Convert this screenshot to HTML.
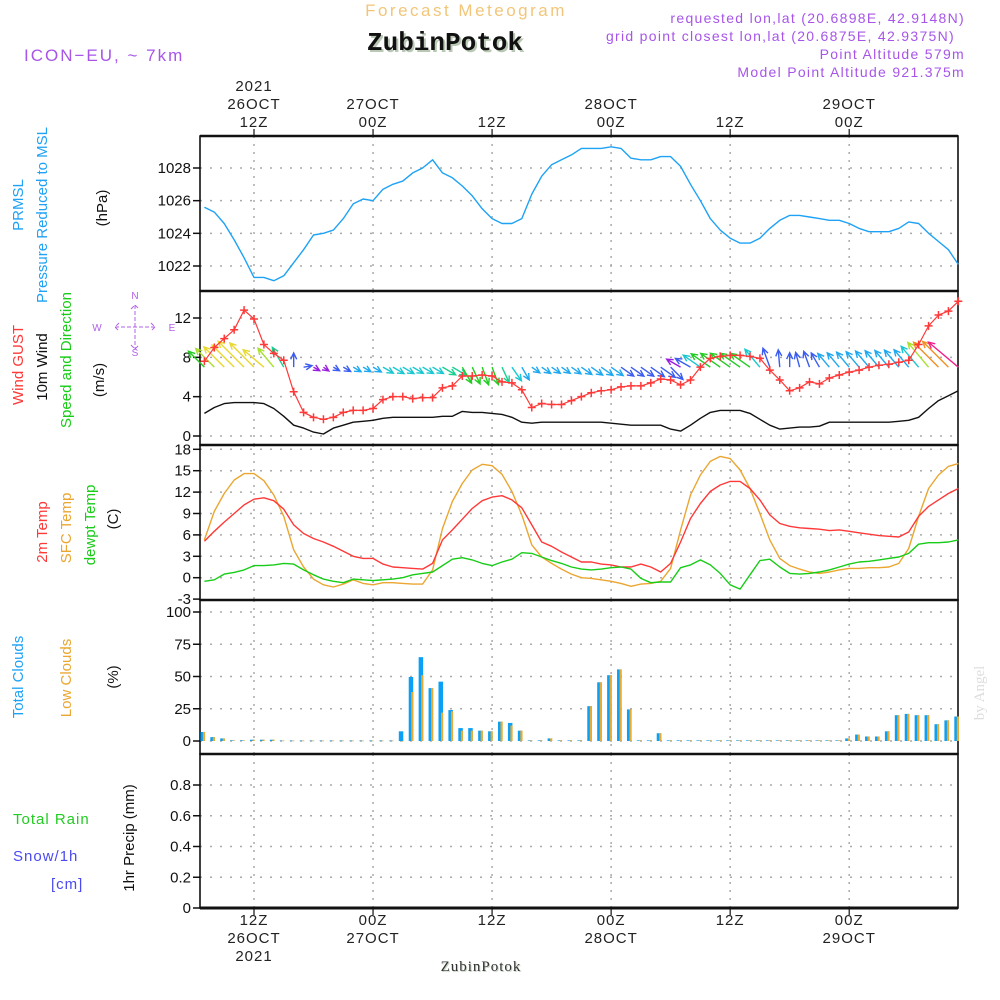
<!DOCTYPE html>
<html><head><meta charset="utf-8"><title>Meteogram</title>
<style>
html,body{margin:0;padding:0;background:#fff;}
svg{display:block;font-family:"Liberation Sans",sans-serif;}
.lbl{font-size:15px;letter-spacing:1px;fill:#222;}
.tk{font-size:15px;fill:#111;}
</style></head><body>
<svg id="chart" width="1000" height="1000" viewBox="0 0 1000 1000" xmlns="http://www.w3.org/2000/svg">
<rect x="0" y="0" width="1000" height="1000" fill="#fff"/>
<text x="466" y="16" text-anchor="middle" font-size="17" letter-spacing="2.5" fill="#f2c67a">Forecast Meteogram</text>
<text x="447" y="52" text-anchor="middle" font-family="Liberation Mono,monospace" font-weight="bold" font-size="26" fill="#b9c8b4">ZubinPotok</text>
<text x="445" y="50" text-anchor="middle" font-family="Liberation Mono,monospace" font-weight="bold" font-size="26" fill="#111">ZubinPotok</text>
<g font-size="14" letter-spacing="1.3" fill="#a755e8" text-anchor="end">
<text x="965" y="23">requested lon,lat (20.6898E, 42.9148N)</text>
<text x="955" y="41">grid point closest lon,lat (20.6875E, 42.9375N)</text>
<text x="965" y="59">Point Altitude 579m</text>
<text x="965" y="77">Model Point Altitude 921.375m</text>
</g>
<text x="24" y="61" font-size="17" letter-spacing="2" fill="#a755e8">ICON−EU, ~ 7km</text>
<text x="482" y="972" text-anchor="middle" font-family="Liberation Serif,serif" font-size="15" letter-spacing="1" fill="#c8d4c4">ZubinPotok</text>
<text x="481" y="971" text-anchor="middle" font-family="Liberation Serif,serif" font-size="15" letter-spacing="1" fill="#333">ZubinPotok</text>
<text transform="translate(984,693) rotate(-90)" text-anchor="middle" font-family="Liberation Serif,serif" font-size="15" fill="#ddd">by Angel</text>
<g id="plots"></g>
</svg>
<script>
// ---- data (hourly, starting 07Z 26OCT) ----
const startHour = 7;
const pressure = [1025.6,1025.3,1024.6,1023.6,1022.5,1021.3,1021.3,1021.1,1021.4,1022.2,1023.0,1023.9,1024.0,1024.2,1024.9,1025.8,1026.1,1026.0,1026.7,1027.0,1027.2,1027.7,1028.0,1028.5,1027.7,1027.4,1026.9,1026.3,1025.5,1024.9,1024.6,1024.6,1024.9,1026.4,1027.5,1028.2,1028.5,1028.8,1029.2,1029.2,1029.2,1029.3,1029.2,1028.6,1028.5,1028.5,1028.7,1028.7,1028.1,1027.0,1026.0,1024.9,1024.2,1023.7,1023.4,1023.4,1023.7,1024.3,1024.8,1025.1,1025.1,1025.0,1024.9,1024.8,1024.8,1024.6,1024.3,1024.1,1024.1,1024.1,1024.3,1024.7,1024.6,1024.0,1023.5,1023.0,1022.1];
const wind10 = [2.3,2.9,3.3,3.4,3.4,3.4,3.3,2.8,2.0,1.1,0.8,0.4,0.2,0.8,1.1,1.4,1.5,1.6,1.8,1.9,1.9,1.9,1.9,1.9,2.0,2.0,2.5,2.4,2.4,2.3,2.2,1.9,1.4,1.3,1.4,1.4,1.4,1.4,1.4,1.4,1.4,1.3,1.2,1.1,1.1,1.1,1.1,0.7,0.5,1.1,1.8,2.4,2.6,2.6,2.6,2.3,1.7,1.1,0.7,0.8,0.9,0.9,1.0,1.4,1.4,1.4,1.4,1.4,1.4,1.4,1.5,1.6,1.9,2.8,3.6,4.1,4.6];
const gust = [7.6,9.0,9.9,10.8,12.8,11.9,9.3,8.4,7.7,4.5,2.4,1.9,1.7,1.9,2.4,2.6,2.6,2.8,3.7,4.0,4.0,3.8,3.9,3.9,4.9,5.1,6.1,6.1,6.2,6.1,5.5,5.4,4.7,2.9,3.3,3.2,3.2,3.6,4.0,4.4,4.6,4.7,5.0,5.1,5.1,5.4,5.8,5.7,5.2,5.7,7.0,7.9,8.1,8.2,8.2,8.1,7.9,6.7,5.7,4.6,4.9,5.5,5.3,5.9,6.2,6.5,6.7,7.0,7.2,7.3,7.5,7.7,9.3,11.2,12.3,12.7,13.7];
const windDirTo = [315,315,315,315,315,315,310,320,330,0,80,120,125,120,120,120,120,120,120,120,120,120,120,120,120,120,150,155,160,160,155,145,150,125,125,125,125,125,125,125,125,125,125,125,125,125,125,135,300,300,305,305,305,305,305,305,320,340,355,0,345,340,330,320,320,320,320,320,320,320,320,320,320,320,315,315,310];
const temp2m = [5.1,6.5,7.8,9.0,10.2,11.0,11.2,10.8,9.6,7.4,6.2,5.5,5.0,4.4,3.7,3.0,2.7,2.7,1.9,1.5,1.4,1.3,1.2,2.0,5.3,6.7,8.2,9.7,10.8,11.3,11.5,10.9,9.8,7.4,5.0,4.4,3.6,2.9,2.2,2.2,1.9,1.8,1.5,1.5,1.9,1.5,0.8,2.0,5.0,8.3,10.4,12.1,13.0,13.5,13.5,12.5,10.9,8.8,7.6,7.2,7.0,6.9,6.8,6.6,6.7,6.5,6.3,6.1,5.9,5.8,5.7,6.4,8.6,10.0,10.9,11.8,12.5];
const tempSfc = [5.3,9.3,11.8,13.7,14.6,14.6,13.6,11.6,8.6,3.9,1.5,-0.2,-1.0,-1.3,-0.9,-0.3,-0.8,-1.0,-0.7,-0.7,-0.8,-0.9,-0.9,1.1,6.9,10.7,13.2,15.1,15.9,15.7,14.5,12.1,8.8,4.6,2.9,2.0,1.2,0.5,0.0,-0.1,-0.3,-0.5,-0.8,-1.2,-0.9,-0.8,-0.5,1.3,6.7,11.6,14.4,16.3,17.0,16.7,15.1,12.5,9.0,5.3,2.7,1.7,1.2,0.8,0.6,0.8,1.1,1.3,1.3,1.4,1.4,1.5,2.0,4.1,8.6,12.5,14.4,15.6,16.0];
const dewpt = [-0.5,-0.3,0.5,0.75,1.1,1.7,1.7,1.8,2.0,1.9,1.1,0.4,-0.2,-0.5,-0.7,-0.2,-0.3,-0.4,-0.3,-0.2,0.0,0.4,0.6,0.8,1.7,2.6,2.8,2.5,2.0,1.7,2.2,2.6,3.5,3.4,2.9,2.4,2.0,1.5,1.2,1.1,1.2,1.4,1.5,1.2,-0.1,-0.7,-0.6,-0.6,1.4,1.8,2.5,1.8,0.6,-1.0,-1.6,0.4,2.4,2.6,1.5,0.6,0.5,0.6,0.8,1.1,1.5,1.9,2.2,2.3,2.5,2.7,2.9,3.4,4.7,4.9,4.9,5.0,5.3];
const totalClouds = [7,3,2,0.5,0.5,1,1,1,0.3,0.3,0.3,0.3,0.3,0.3,0.3,0.3,0.3,0.3,0.3,0.3,7.5,49.6,65,41,46,24,10,10,8,7.5,15,14,8,0.5,0.5,2,0.5,0.5,0.5,27,45.5,51,55.5,24.5,0.5,0.5,6,0.5,0.5,0.5,0.5,0.5,0.5,0.5,0.5,0.5,0.5,0.5,0.5,0.5,0.5,0.5,0.5,0.5,0.5,2,5,3.5,3.5,7.5,20,21,20,20,13,16,19];
const lowClouds = [7,3,2,0.5,0.5,1,1,1,0.3,0.3,0.3,0.3,0.3,0.3,0.3,0.3,0.3,0.3,0.3,0.3,0,38,51,41,22,23,8,8,8,7.5,15,12,8,0.5,0.5,2,0.5,0.5,0.5,27,45.5,51,55.5,24.5,0.5,0.5,6,0.5,0.5,0.5,0.5,0.5,0.5,0.5,0.5,0.5,0.5,0.5,0.5,0.5,0.5,0.5,0.5,0.5,0.5,2,5,3.5,3.5,7.5,20,21,20,20,13,16,19];
const precip = new Array(77).fill(0);
const pressTicks = [1022,1024,1026,1028];
const windTicks = [0,4,8,12];
const tempTicks = [-3,0,3,6,9,12,15,18];
const cloudTicks = [0,25,50,75,100];
const precipTicks = [0,0.2,0.4,0.6,0.8];
const topLabels = [["2021","26OCT","12Z"],["","27OCT","00Z"],["","","12Z"],["","28OCT","00Z"],["","","12Z"],["","29OCT","00Z"]];
const bottomLabels = [["12Z","26OCT","2021"],["00Z","27OCT",""],["12Z","",""],["00Z","28OCT",""],["12Z","",""],["00Z","29OCT",""]];
const labelHours = [12,24,36,48,60,72];

// ---- scales ----
const X0=200, X1=958;
const xS = t => 254 + (t-12)*9.92;
function lin(d0,d1,r0,r1){return v=>r0+(v-d0)*(r1-r0)/(d1-d0);}
const yP = lin(1022,1028,266,168);
const yW = lin(0,12,436,318);
const yT = lin(0,18,577.7,449.3);
const yC = lin(0,100,741,612);
const yR = lin(0,0.8,908,785);
const panels = [[136,291,yP,pressTicks,'pressure'],[291,445,yW,windTicks,'wind'],[445,600,yT,tempTicks,'temp'],[600,754,yC,cloudTicks,'clouds'],[754,908,yR,precipTicks,'precip']];

const NS='http://www.w3.org/2000/svg';
const root=document.getElementById('plots');
function mk(tag,attrs,parent){const e=document.createElementNS(NS,tag);for(const k in attrs)e.setAttribute(k,attrs[k]);(parent||root).appendChild(e);return e;}

panels.forEach(p=>{
  const [top,bot,ys,ticks,nm]=p;
  const g=mk('g',{});
  
  
  labelHours.forEach(h=>{
    const l=mk('line',{x1:xS(h),x2:xS(h),y1:top,y2:bot,stroke:'#aaa','stroke-width':1.5,'stroke-dasharray':'2,6'},g);
    
    
  });
  ticks.forEach(v=>{
    const y=ys(v);
    if(y>top+2&&y<bot-2){
      const l=mk('line',{x1:X0,x2:X1,y1:y,y2:y,stroke:'#aaa','stroke-width':1.5,'stroke-dasharray':'2,8'},g);
      
      
    }
    const tl=mk('line',{x1:193,x2:X0,y1:y,y2:y,stroke:'#111','stroke-width':1.5},g);
    
    
    const t=mk('text',{x:191,y:y+5,'text-anchor':'end',class:'tk'},g);
    t.textContent=String(v);
    
    
  });
  const fr=mk('rect',{x:X0,y:top,width:X1-X0,height:bot-top,fill:'none',stroke:'#000','stroke-width':1.5},g);
  
  
  const tb=mk('line',{x1:X0,x2:X1,y1:top,y2:top,stroke:'#111','stroke-width':2.5},g);
  
  
});
mk('line',{x1:X0,x2:X1,y1:908,y2:908,stroke:'#111','stroke-width':3});

labelHours.forEach((h,i)=>{
  const x=xS(h);
  const tt=mk('line',{x1:x,x2:x,y1:129,y2:136,stroke:'#111','stroke-width':1.2});
  
  
  const bt=mk('line',{x1:x,x2:x,y1:908,y2:915,stroke:'#111','stroke-width':1.2});
  
  
  topLabels[i].forEach((s,k)=>{ if(!s)return;
    const t=mk('text',{x:x,y:91+k*18,'text-anchor':'middle',class:'lbl'});
    t.textContent=s;
    
    
  });
  bottomLabels[i].forEach((s,k)=>{ if(!s)return;
    const t=mk('text',{x:x,y:925+k*18,'text-anchor':'middle',class:'lbl'});
    t.textContent=s;
    
    
  });
});

function pathOf(arr,ys){return arr.map((v,i)=>(i?'L':'M')+xS(startHour+i).toFixed(1)+','+ys(v).toFixed(1)).join(' ');}
function line(arr,ys,color,name,w){
  const p=mk('path',{d:pathOf(arr,ys),fill:'none',stroke:color,'stroke-width':w||1.4,'stroke-linejoin':'round'});
  
  
}

line(pressure,yP,'#1ea2f5','pressure-line');
line(wind10,yW,'#111','wind10m-line');

function spdColor(s){
  if(s<0.6)return '#9a1ee0';
  if(s<1.3)return '#3a5cf0';
  if(s<1.7)return '#1ea8f0';
  if(s<2.0)return '#18c8d0';
  if(s<2.3)return '#18d090';
  if(s<2.7)return '#22cc22';
  if(s<3.1)return '#a8e030';
  if(s<3.5)return '#e8d830';
  if(s<4.3)return '#f09020';
  return '#f0208a';
}
windDirTo.forEach((d,i)=>{
  const s=wind10[i], x=xS(startHour+i), y=yW(7);
  const L=2.7*gust[i]+2, a=d*Math.PI/180;
  const dx=Math.sin(a)*L, dy=-Math.cos(a)*L;
  const hx=x+dx, hy=y+dy, c=spdColor(s);
  const ang=Math.atan2(dy,dx), hl=7;
  const p1=[hx-hl*Math.cos(ang-0.45),hy-hl*Math.sin(ang-0.45)], p2=[hx-hl*Math.cos(ang+0.45),hy-hl*Math.sin(ang+0.45)];
  const arr=mk('path',{d:`M${x},${y} L${hx},${hy} M${p1[0]},${p1[1]} L${hx},${hy} L${p2[0]},${p2[1]}`,fill:'none',stroke:c,'stroke-width':1.4});
  
  
});
line(gust,yW,'#ff3838','gust-line',1.2);
gust.forEach((v,i)=>{
  const x=xS(startHour+i), y=yW(v);
  const m=mk('path',{d:`M${x-4},${y} L${x+4},${y} M${x},${y-4} L${x},${y+4}`,stroke:'#ff3838','stroke-width':1.5});
  
  
});

line(tempSfc,yT,'#eaa630','sfc-temp-line');
line(temp2m,yT,'#ff3838','temp-2m-line');
line(dewpt,yT,'#18cc18','dewpoint-line');

totalClouds.forEach((v,i)=>{
  const x=xS(startHour+i);
  const b=mk('rect',{x:x-4,y:yC(v),width:4.5,height:Math.max(0.5,yC(0)-yC(v)),fill:'#0aa0f5'});
  
  
  const lv=lowClouds[i];
  const o=mk('rect',{x:x-1.5,y:yC(lv),width:2.2,height:Math.max(0.5,yC(0)-yC(lv)),fill:'#e8aa30'});
  
  
});
precip.forEach((v,i)=>{
  if(v<=0)return;
  const x=xS(startHour+i);
  const b=mk('rect',{x:x-3,y:yR(v),width:6,height:yR(0)-yR(v),fill:'#18cc18'});
  
  
});

function vt(x,y,txt,color,name){
  const t=mk('text',{transform:`translate(${x},${y}) rotate(-90)`,'text-anchor':'middle','font-size':'15',fill:color});
  t.textContent=txt;
  
  
}
vt(23,205,'PRMSL','#1ea2f5','prmsl-title');
vt(47,215,'Pressure Reduced to MSL','#1ea2f5','pressure-title');
vt(107,208,'(hPa)','#111','pressure-unit');
vt(23,365,'Wind GUST','#ff3838','gust-title');
vt(47,367,'10m Wind','#111','wind10m-title');
vt(71,360,'Speed and Direction','#18cc18','wind-dir-title');
vt(104,380,'(m/s)','#111','wind-unit');
vt(47,532,'2m Temp','#ff3838','temp2m-title');
vt(71,528,'SFC Temp','#eaa630','sfc-temp-title');
vt(95,525,'dewpt Temp','#18cc18','dewpt-title');
vt(118,519,'(C)','#111','temp-unit');
vt(23,677,'Total Clouds','#1ea2f5','total-clouds-title');
vt(71,678,'Low Clouds','#eaa630','low-clouds-title');
vt(118,677,'(%)','#111','clouds-unit');
vt(134,838,'1hr Precip (mm)','#111','precip-title');
function ht(x,y,txt,color,name){
  const t=mk('text',{x:x,y:y,'font-size':'15','letter-spacing':'1',fill:color});
  t.textContent=txt;
  
  
}
ht(13,824,'Total  Rain','#22cc22','rain-legend');
ht(13,861,'Snow/1h','#4a4af0','snow-legend');
ht(51,889,'[cm]','#4a4af0','snow-unit');
const cg=mk('g',{fill:'#b060e8','font-size':'10'});


[['N',135,299],['S',135,356],['W',97,331],['E',172,331]].forEach(a=>{const t=mk('text',{x:a[1],y:a[2],'text-anchor':'middle'},cg);t.textContent=a[0];});
mk('path',{d:'M115,327 L155,327 M135,305 L135,349 M119,323 L115,327 L119,331 M151,323 L155,327 L151,331 M131,309 L135,305 L139,309 M131,345 L135,349 L139,345',stroke:'#b060e8','stroke-width':1,fill:'none','stroke-dasharray':'4,2'},cg);
</script>
</body></html>
